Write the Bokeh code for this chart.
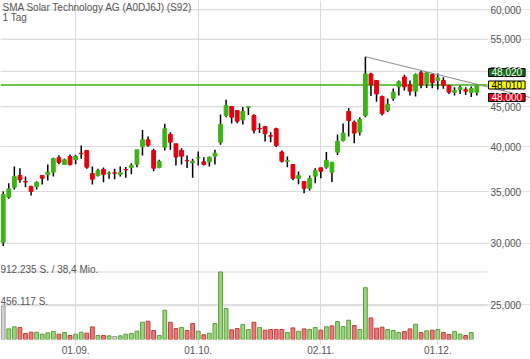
import math
import pandas as pd
from bokeh.plotting import figure
from bokeh.models import Range1d, FixedTicker, Label, ColumnDataSource, LinearScale
from bokeh.core.properties import value
from bokeh.embed import file_html
from bokeh.resources import INLINE

# ---------------- data ----------------
title_text = "SMA Solar Technology AG (A0DJ6J) (S92)"
period_text = "1 Tag"
dates = pd.bdate_range("2020-08-13", "2020-12-10")

opens = [30.11, 34.42, 35.45, 36.70, 36.05, 35.53, 35.53, 36.70, 36.81, 37.07,
         38.68, 37.92, 38.83, 38.48, 39.20, 39.53, 36.92, 36.70, 37.36, 36.90,
         37.00, 36.82, 37.36, 37.59, 37.96, 39.97, 40.80, 39.53, 37.59, 39.90,
         41.46, 40.32, 39.53, 38.38, 38.10, 38.65, 38.22, 38.22, 38.87, 40.50,
         43.86, 45.04, 44.51, 43.30, 44.92, 43.86, 42.20, 42.44, 41.30, 42.17,
         39.34, 38.30, 37.92, 36.40, 36.05, 35.34, 36.63, 37.55, 37.62, 37.07,
         39.34, 40.72, 44.37, 42.99, 41.74, 43.86, 49.61, 48.65, 46.39, 44.51,
         46.16, 47.76, 49.17, 48.04, 47.14, 49.77, 48.18, 49.52, 48.65, 48.65,
         47.94, 47.00, 47.37, 47.33, 46.96, 46.96]
highs = [35.00, 35.86, 37.70, 37.50, 36.59, 35.59, 36.09, 36.70, 37.92, 38.70,
         38.97, 38.59, 39.06, 39.00, 40.12, 39.53, 37.70, 37.44, 37.58, 37.14,
         37.44, 37.70, 37.65, 38.07, 39.61, 42.01, 41.21, 39.73, 38.46, 42.79,
         41.73, 40.32, 39.80, 38.94, 38.57, 39.42, 38.74, 38.83, 39.61, 43.99,
         45.95, 45.04, 44.51, 44.96, 45.04, 44.03, 42.87, 42.44, 41.73, 42.28,
         39.53, 38.83, 37.92, 37.14, 36.05, 36.70, 37.51, 37.55, 39.34, 38.18,
         41.45, 42.83, 44.83, 43.21, 43.64, 52.21, 49.77, 48.65, 46.54, 46.13,
         47.52, 48.65, 49.50, 48.65, 49.66, 50.12, 49.87, 49.66, 49.66, 49.13,
         48.04, 47.70, 47.94, 47.70, 47.80, 48.14]
lows = [29.77, 34.25, 35.20, 35.92, 35.45, 34.59, 35.20, 35.74, 36.16, 36.60,
        37.96, 37.88, 37.81, 37.96, 38.57, 37.44, 35.74, 36.59, 35.98, 36.35,
        36.30, 36.60, 36.45, 36.85, 37.62, 38.94, 39.97, 37.17, 37.51, 39.53,
        39.61, 37.81, 37.92, 37.54, 36.45, 37.81, 37.81, 37.70, 37.92, 40.20,
        43.64, 42.83, 42.87, 42.70, 43.92, 41.58, 41.63, 40.60, 40.52, 39.93,
        38.15, 37.62, 36.18, 35.77, 34.83, 35.10, 35.88, 36.40, 37.44, 35.99,
        39.00, 40.60, 41.21, 40.40, 41.33, 43.64, 46.45, 45.69, 43.86, 44.30,
        45.81, 46.54, 47.23, 46.54, 46.39, 47.56, 47.60, 47.56, 47.37, 47.46,
        46.76, 46.54, 46.76, 46.59, 46.32, 46.54]
closes = [34.69, 35.28, 36.59, 36.23, 36.00, 34.99, 35.95, 36.40, 37.07, 38.59,
          38.15, 38.46, 37.92, 38.83, 39.15, 37.62, 36.30, 37.25, 36.84, 36.95,
          36.95, 37.00, 37.33, 37.81, 39.61, 40.80, 40.15, 37.51, 38.27, 42.17,
          40.52, 38.77, 38.87, 38.34, 38.29, 38.70, 37.92, 38.74, 39.22, 42.70,
          45.18, 43.64, 43.12, 44.38, 45.00, 41.97, 42.15, 41.54, 41.25, 40.12,
          38.29, 38.35, 36.40, 36.70, 35.34, 36.38, 37.25, 37.17, 38.37, 38.18,
          40.63, 41.62, 43.21, 41.62, 43.33, 49.61, 48.04, 46.76, 44.10, 45.32,
          47.00, 48.48, 47.76, 47.14, 49.52, 48.04, 49.77, 48.32, 49.04, 47.94,
          47.00, 47.23, 47.66, 47.14, 47.52, 48.01]
volumes = [450000, 143500, 170400, 161500, 80700, 98700, 98700, 71800, 89700, 107600,
           71800, 94200, 53800, 71800, 98700, 85200, 170400, 53800, 53800, 49300,
           40400, 49300, 71800, 80700, 112100, 233200, 246700, 121100, 53800, 394700,
           233200, 148000, 161500, 121100, 215300, 112100, 62800, 85200, 215300, 912235,
           417100, 130100, 148000, 201800, 134600, 233200, 161500, 125600, 134600, 134600,
           134600, 94200, 157000, 112100, 143500, 134600, 161500, 125600, 170400, 183900,
           242200, 174900, 260100, 188400, 134600, 699700, 291500, 152500, 165900, 134600,
           121100, 94200, 107600, 143500, 206300, 94200, 116600, 125600, 134600, 94200,
           67300, 107600, 71800, 53800, 94200, 0]
turnover_max_mio = "38,4"

price_ticks = [25, 30, 35, 40, 45, 50, 55, 60]
price_tick_labels = ["25,000", "30,000", "35,000", "40,000", "45,000", "50,000", "55,000", "60,000"]

ask_price, last_price, bid_price = 48.02, 48.01, 48.00
trend_anchor_idx = [65, 75]   # trend line drawn through these two highs

# ---------------- derived ----------------
n = len(closes)
idx = list(range(n))
GREEN, RED = "#3cb414", "#e3000f"
body_col = [GREEN if c >= o else RED for o, c in zip(opens, closes)]
top = [max(o, c) for o, c in zip(opens, closes)]
bot = [min(o, c) for o, c in zip(opens, closes)]

vfill, vline = [], []
for i in idx:
    if i == 0 or closes[i] == closes[i - 1]:
        vfill.append("#d2d2d2"); vline.append("#9a9a9a")
    elif closes[i] > closes[i - 1]:
        vfill.append("#9ad57d"); vline.append("#5a9e3c")
    else:
        vfill.append("#e97a7a"); vline.append("#c23d3d")

month_first = [i for i in range(1, n) if dates[i].month != dates[i - 1].month]
x_tick_labels = {i: dates[i].strftime("%d.%m.") for i in month_first}

def fmt_de(v):
    return f"{v:,}".replace(",", ".")

def fmt_price(v):
    return f"{v:.3f}".replace(".", ",")

vmax = max(volumes)

# ---------------- figure ----------------
STEP = 5.572                      # pixels per trading day
X0 = -2.7 / STEP
X1 = (530 - 2.7) / STEP
GRID_END = (487 - 2.7) / STEP     # price area right edge
LAB_X = (490 - 2.7) / STEP        # price scale labels

p = figure(width=530, height=359, output_backend="svg", toolbar_location=None,
           x_range=Range1d(X0, X1), y_range=Range1d(22.56, 61.69),
           y_axis_type="log", y_axis_location=None,
           min_border_left=0, min_border_right=0, min_border_top=0, min_border_bottom=20)
p.outline_line_color = None
p.background_fill_color = "white"
p.border_fill_color = "white"
p.extra_y_ranges = {"vol": Range1d(0, 4_580_000)}
p.extra_y_scales = {"vol": LinearScale()}

FONT = "Liberation Sans"
TXT = "#555555"
GRID = "#dadada"

xax = p.xaxis[0]
xax.ticker = FixedTicker(ticks=month_first)
xax.major_label_overrides = x_tick_labels
xax.axis_line_color = None
xax.major_tick_line_color = GRID
xax.major_tick_out = 5
xax.major_tick_in = 0
xax.minor_tick_line_color = None
xax.major_label_standoff = 1
xax.major_label_text_font = FONT
xax.major_label_text_font_size = "10px"
xax.major_label_text_color = TXT
p.xgrid.ticker = FixedTicker(ticks=month_first)
p.xgrid.grid_line_color = GRID

# price grid lines and price scale labels
p.segment(x0=X0, x1=GRID_END, y0=price_ticks, y1=price_ticks, line_color=GRID, line_width=1)
p.text(x=[LAB_X] * len(price_ticks), y=price_ticks, text=price_tick_labels,
       text_font=value(FONT), text_font_size="10px", text_color=TXT,
       text_align="left", text_baseline="middle")

# volume grid lines (max and half max) and their labels
vol_levels = [vmax, vmax // 2]
p.segment(x0=X0, x1=GRID_END, y0=vol_levels, y1=vol_levels, y_range_name="vol",
          line_color=GRID, line_width=1)
p.add_layout(Label(x=0, y=vmax, x_units="screen", y_range_name="vol",
                   text=f"{fmt_de(vmax)} S. / {turnover_max_mio} Mio.",
                   text_font=FONT, text_font_size="10px", text_color=TXT,
                   text_baseline="alphabetic", y_offset=2.5))
p.add_layout(Label(x=0, y=vmax // 2, x_units="screen", y_range_name="vol",
                   text=f"{fmt_de(vmax // 2)} S.",
                   text_font=FONT, text_font_size="10px", text_color=TXT,
                   text_baseline="alphabetic", y_offset=4.5))

# volume bars
keep = [i for i in idx if volumes[i] > 0]
vsrc = ColumnDataSource(dict(x=keep, v=[volumes[i] for i in keep],
                             f=[vfill[i] for i in keep], l=[vline[i] for i in keep]))
p.vbar(x="x", top="v", bottom=0, width=0.68, source=vsrc, y_range_name="vol",
       fill_color="f", line_color="l", line_width=1)

# last price line
p.line([X0, GRID_END], [last_price, last_price], line_color=GREEN, line_width=1.5)

# candles
csrc = ColumnDataSource(dict(x=idx, h=highs, l=lows, t=top, b=bot, c=body_col))
p.segment(x0="x", y0="l", x1="x", y1="h", source=csrc, line_color="black", line_width=1.5)
p.vbar(x="x", top="t", bottom="b", width=0.68, source=csrc,
       fill_color="c", line_color="c", line_width=1)

# trend line through two highs, extended to the right edge
a, b = trend_anchor_idx
slope = (math.log(highs[b]) - math.log(highs[a])) / (b - a)
p.line([a, X1], [highs[a], math.exp(math.log(highs[a]) + slope * (X1 - a))],
       line_color="#8c8c8c", line_width=1)

# quote boxes
for val, off, bg, fg in [(ask_price, 12.5, "#0f6b12", "white"),
                         (last_price, 0, "#ffff00", "black"),
                         (bid_price, -12.5, "#e2001a", "white")]:
    p.add_layout(Label(x=488, y=last_price, x_units="screen", y_offset=off,
                       text=fmt_price(val), text_font=FONT, text_font_size="10px",
                       text_color=fg, text_baseline="middle", text_align="left",
                       background_fill_color=bg, border_line_color="black",
                       border_line_width=1, padding=(3, 0)))

# title
p.add_layout(Label(x=2, y=337.5, x_units="screen", y_units="screen", text=title_text,
                   text_font=FONT, text_font_size="10px", text_color=TXT, text_baseline="top"))
p.add_layout(Label(x=2, y=327.5, x_units="screen", y_units="screen", text=period_text,
                   text_font=FONT, text_font_size="10px", text_color=TXT, text_baseline="top"))

open("out.html", "w").write(file_html(p, INLINE))
